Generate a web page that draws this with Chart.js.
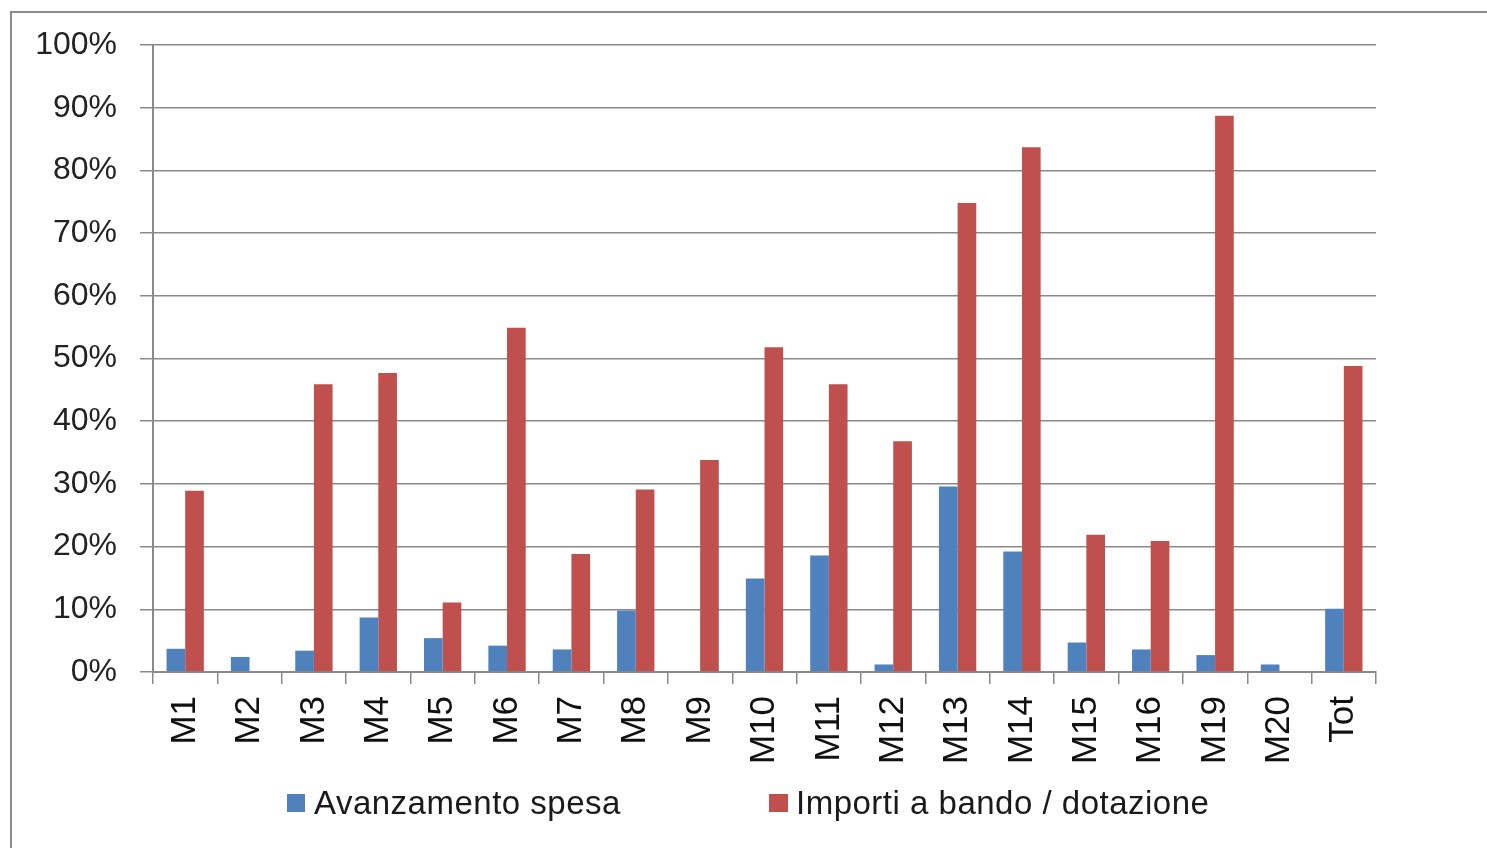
<!DOCTYPE html>
<html>
<head>
<meta charset="utf-8">
<script src="https://cdn.jsdelivr.net/npm/chart.js@4/dist/chart.umd.min.js"></script>
<style>
  html, body { margin: 0; padding: 0; background: #fff; overflow: hidden; }
  #frame { position: absolute; left: 10px; top: 11px; width: 1500px; height: 900px; border: 2px solid #8c8c8c; box-sizing: border-box; }
  #wrap { position: absolute; left: 0; top: 0; width: 1487px; height: 848px; }
  .leg { position: absolute; font-family: "Liberation Sans", Arial, sans-serif; font-size: 33px; letter-spacing: 0.5px; color: #1a1a1a; line-height: 1; white-space: nowrap; }
  .box { position: absolute; width: 18px; height: 18px; }
</style>
</head>
<body>
<div id="frame"></div>
<div id="wrap"><canvas id="c" width="1487" height="848"></canvas></div>
<div class="box" id="b0" style="left:287px; top:794px;"></div>
<div class="leg" id="t0" style="left:314px; top:786px;"></div>
<div class="box" id="b1" style="left:769px; top:794px; width:19px;"></div>
<div class="leg" id="t1" style="left:796px; top:786px;"></div>
<script>
const categories = ['M1','M2','M3','M4','M5','M6','M7','M8','M9','M10','M11','M12','M13','M14','M15','M16','M19','M20','Tot'];
const avanzamentoSpesa = [3.7, 2.4, 3.4, 8.7, 5.4, 4.2, 3.6, 9.8, 0, 14.9, 18.6, 1.2, 29.6, 19.2, 4.7, 3.6, 2.7, 1.2, 10.1];
const importiBando = [28.9, 0, 45.9, 47.7, 11.1, 54.9, 18.8, 29.1, 33.8, 51.8, 45.9, 36.8, 74.8, 83.7, 21.9, 20.9, 88.7, 0, 48.8];
const seriesNames = ['Avanzamento spesa', 'Importi a bando / dotazione'];
const seriesColors = ['#4F81BD', '#C0504D'];
const yTicks = [0,10,20,30,40,50,60,70,80,90,100];

document.getElementById('b0').style.background = seriesColors[0];
document.getElementById('b1').style.background = seriesColors[1];
document.getElementById('t0').textContent = seriesNames[0];
document.getElementById('t1').textContent = seriesNames[1];

new Chart(document.getElementById('c'), {
  type: 'bar',
  data: {
    labels: categories,
    datasets: [
      { label: seriesNames[0], data: avanzamentoSpesa, backgroundColor: seriesColors[0], borderWidth: 0 },
      { label: seriesNames[1], data: importiBando, backgroundColor: seriesColors[1], borderWidth: 0 }
    ]
  },
  options: {
    responsive: false,
    animation: false,
    events: [],
    layout: { padding: { left: 0, right: 111, top: 45, bottom: 76 } },
    datasets: { bar: { categoryPercentage: 0.58, barPercentage: 1.0 } },
    plugins: { legend: { display: false }, tooltip: { enabled: false } },
    scales: {
      x: {
        offset: true,
        grid: { display: true, drawOnChartArea: false, drawTicks: true, tickLength: 12, offset: true, color: '#8a8a8a', lineWidth: 1.5 },
        border: { display: true, color: '#8a8a8a', width: 2 },
        ticks: { minRotation: 90, maxRotation: 90, autoSkip: false, padding: 12, color: '#111',
                 font: { family: 'Liberation Sans', size: 35 } },
        afterFit: (s) => { s.height = 100; }
      },
      y: {
        min: 0, max: 100,
        afterBuildTicks: (s) => { s.ticks = yTicks.map(v => ({ value: v })); },
        grid: { color: '#8a8a8a', lineWidth: 1.5, tickLength: 13 },
        border: { display: true, color: '#8a8a8a', width: 2 },
        ticks: { padding: 23, color: '#222', callback: (v) => v + '%',
                 font: { family: 'Liberation Sans', size: 32 } },
        afterFit: (s) => { s.width = 153; }
      }
    }
  }
});
</script>
</body>
</html>
